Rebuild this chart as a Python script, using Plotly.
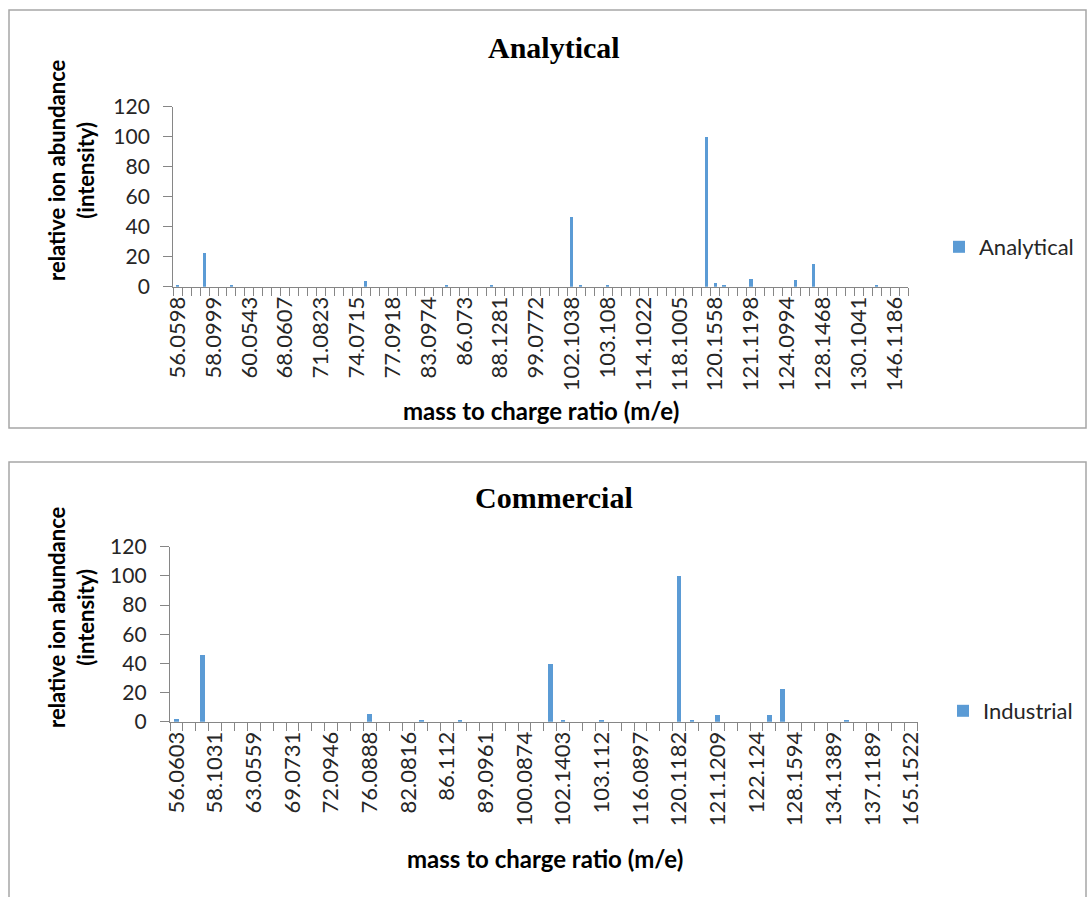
import plotly.graph_objects as go

# ---------------- data ----------------
# Peak table (m/e) for the analytical-grade sample, in table order.
analytical_mz = [
    "56.0598", "56.9652", "57.0341", "57.0702", "58.0999", "59.0492", "59.0736", "60.0215",
    "60.0543", "65.0387", "66.0462", "67.0543", "68.0607", "69.0701", "70.0651", "70.0782",
    "71.0823", "72.0811", "73.0648", "74.0362", "74.0715", "75.0423", "76.0391", "77.0386",
    "77.0918", "78.0469", "79.0542", "82.0651", "83.0974", "84.0812", "85.0648", "85.1012",
    "86.073", "86.0968", "87.0812", "88.0754", "88.1281", "91.0542", "93.0701", "98.0732",
    "99.0772", "100.0756", "101.0601", "102.0553", "102.1038", "102.1472", "103.0386", "103.0712",
    "103.108", "104.0706", "105.0701", "107.0861", "114.1022", "115.0543", "116.0621", "117.0699",
    "118.1005", "119.0861", "120.0444", "120.0813", "120.1558", "121.0651", "121.0889", "121.1052",
    "121.1198", "122.0964", "123.0917", "124.0756", "124.0994", "125.1073", "126.1041", "127.1122",
    "128.1468", "129.102", "129.1389", "130.0655", "130.1041", "131.1069", "132.1021", "143.1073",
    "146.1186", "148.1124",
]
analytical_intensity = [
    1.5, 0, 0, 23, 0, 0, 1.5, 0,
    0, 0, 0, 0, 0, 0, 0, 0,
    0, 0, 0, 0, 0, 4, 0, 0,
    0, 0, 0, 0, 0, 0, 1.5, 0,
    0, 0, 0, 1.5, 0, 0, 0, 0,
    0, 0, 0, 0, 47, 1.5, 0, 0,
    1.5, 0, 0, 0, 0, 0, 0, 0,
    0, 0, 0, 100, 3, 1.5, 0, 0,
    5.5, 0, 0, 0, 0, 4.5, 0, 15.5,
    0, 0, 0, 0, 0, 0, 1.5, 0,
    0, 0,
]
# m/e values printed under the analytical axis
analytical_ticklabels = [
    "56.0598", "58.0999", "60.0543", "68.0607", "71.0823", "74.0715", "77.0918",
    "83.0974", "86.073", "88.1281", "99.0772", "102.1038", "103.108", "114.1022",
    "118.1005", "120.1558", "121.1198", "124.0994", "128.1468", "130.1041", "146.1186",
]

# Peak table (m/e) for the commercial / industrial sample, in table order.
industrial_mz = [
    "56.0603", "57.0347", "57.0712", "58.1031", "59.0496", "60.0568", "63.0559", "65.0401",
    "67.0549", "69.0731", "70.0661", "71.0866", "72.0946", "73.0521", "74.0742", "76.0888",
    "77.0403", "79.0558", "82.0816", "83.0853", "85.0664", "86.112", "87.0689", "88.0741",
    "89.0961", "91.0553", "98.0738", "100.0874", "101.0589", "102.0669", "102.1403", "103.0443",
    "103.0785", "103.112", "105.0712", "115.0548", "116.0897", "117.0702", "119.0855", "120.1182",
    "121.0659", "121.0884", "121.1209", "122.0601", "122.0969", "122.124", "123.1001", "127.1125",
    "128.1594", "130.1048", "132.1036", "134.1389", "135.1211", "136.1187", "137.1189", "138.1229",
    "150.1274", "165.1522",
]
industrial_intensity = [
    1.8, 0, 46, 0, 0, 0, 0, 0,
    0, 0, 0, 0, 0, 0, 0, 5.5,
    0, 0, 0, 1.5, 0, 0, 1.5, 0,
    0, 0, 0, 0, 0, 39.5, 1.5, 0,
    0, 1.5, 0, 0, 0, 0, 0, 100,
    1.5, 0, 4.5, 0, 0, 0, 4.5, 22.5,
    0, 0, 0, 0, 1.5, 0, 0, 0,
    0, 0,
]
# m/e values printed under the commercial axis
industrial_ticklabels = [
    "56.0603", "58.1031", "63.0559", "69.0731", "72.0946", "76.0888", "82.0816",
    "86.112", "89.0961", "100.0874", "102.1403", "103.112", "116.0897", "120.1182",
    "121.1209", "122.124", "128.1594", "134.1389", "137.1189", "165.1522",
]

y_ticks = [0, 20, 40, 60, 80, 100, 120]

# ---------------- styling ----------------
W, H = 1088, 897
BAR = "#5B9BD5"
AXIS = "#868686"
FRAME = "#A6A6A6"
TXT = "#262626"
SANS = "Lato, 'Open Sans', sans-serif"
SERIF = "'Liberation Serif', 'Times New Roman', serif"


def px(x):
    """pixel x -> paper fraction"""
    return x / W


def py(y):
    """pixel y (from top) -> paper fraction"""
    return 1 - y / H


fig = go.Figure()
fig.add_trace(go.Bar(
    x=analytical_mz, y=analytical_intensity, name="Analytical",
    marker=dict(color=BAR, line=dict(width=0)), width=0.36,
    xaxis="x", yaxis="y", legend="legend",
))
fig.add_trace(go.Bar(
    x=industrial_mz, y=industrial_intensity, name="Industrial",
    marker=dict(color=BAR, line=dict(width=0)), width=0.36,
    xaxis="x2", yaxis="y2", legend="legend2",
))


def xaxis_cfg(cats, shown, domain, anchor):
    return dict(
        domain=domain, anchor=anchor, type="category",
        categoryorder="array", categoryarray=cats,
        tickmode="array", tickvals=cats,
        ticktext=[c if c in shown else "" for c in cats],
        tickson="boundaries", ticks="outside", ticklen=8, tickwidth=1.3,
        tickcolor=AXIS, showline=True, linecolor=AXIS, linewidth=1.3,
        tickangle=-90, tickfont=dict(family=SANS, size=22, color=TXT),
        showgrid=False, zeroline=False, fixedrange=True, automargin=False,
    )


def yaxis_cfg(domain, anchor):
    return dict(
        domain=domain, anchor=anchor, range=[0, 120], tickmode="array",
        tickvals=y_ticks, ticks="outside", ticklen=9, tickwidth=1.3,
        tickcolor=AXIS, showline=True, linecolor=AXIS, linewidth=1.3,
        ticklabelstandoff=9,
        tickfont=dict(family=SANS, size=21, color=TXT),
        showgrid=False, zeroline=False, fixedrange=True, automargin=False,
    )


fig.update_layout(
    width=W, height=H, autosize=False,
    margin=dict(l=0, r=0, t=0, b=0, pad=0, autoexpand=False),
    paper_bgcolor="white", plot_bgcolor="white",
    showlegend=True, bargap=0,
    xaxis=xaxis_cfg(analytical_mz, set(analytical_ticklabels), [px(173.2), px(908)], "y"),
    yaxis=yaxis_cfg([py(286.7), py(106.7)], "x"),
    xaxis2=xaxis_cfg(industrial_mz, set(industrial_ticklabels), [px(170), px(917.6)], "y2"),
    yaxis2=yaxis_cfg([py(721.7), py(546.7)], "x2"),
    legend=dict(x=px(939), y=py(247), xanchor="left", yanchor="middle",
                font=dict(family=SANS, size=22, color=TXT), bgcolor="rgba(0,0,0,0)"),
    legend2=dict(x=px(943), y=py(711), xanchor="left", yanchor="middle",
                 font=dict(family=SANS, size=22, color=TXT), bgcolor="rgba(0,0,0,0)"),
)

# chart frames
fig.add_shape(type="rect", xref="paper", yref="paper",
              x0=px(9), x1=px(1086), y0=py(428), y1=py(10),
              line=dict(color=FRAME, width=1.5), layer="below")
fig.add_shape(type="rect", xref="paper", yref="paper",
              x0=px(9), x1=px(1086), y0=-0.02, y1=py(462),
              line=dict(color=FRAME, width=1.5), layer="below")

# titles and axis titles
texts = [
    ("<b>Analytical</b>", 554, 47, 0, SERIF, 30, "black"),
    ("<b>Commercial</b>", 554, 498, 0, SERIF, 30, "black"),
    ("<b>mass to charge ratio (m/e)</b>", 541, 411, 0, SANS, 24, "black"),
    ("<b>mass to charge ratio (m/e)</b>", 545, 858, 0, SANS, 24, "black"),
    ("<b>relative ion abundance<br>(intensity)</b>", 71, 170, -90, SANS, 22, "black"),
    ("<b>relative ion abundance<br>(intensity)</b>", 71, 617, -90, SANS, 22, "black"),
]
for t, x, y, ang, fam, size, col in texts:
    fig.add_annotation(text=t, x=px(x), y=py(y), xref="paper", yref="paper",
                       xanchor="center", yanchor="middle", showarrow=False,
                       textangle=ang, font=dict(family=fam, size=size, color=col))

fig.write_html("out.html")
